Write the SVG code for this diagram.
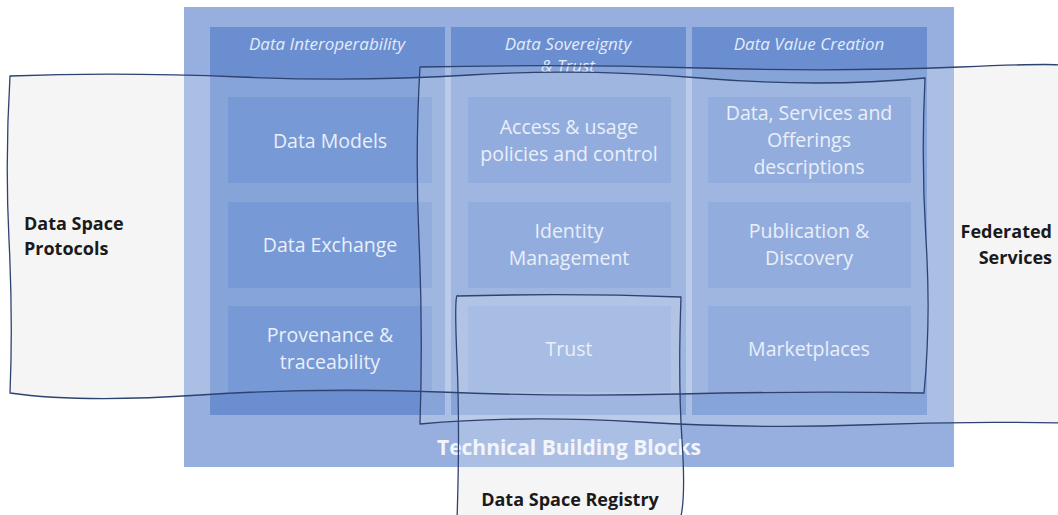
<svg xmlns="http://www.w3.org/2000/svg" width="1058" height="515" viewBox="0 0 1058 515">
<style>
.gray{fill:#f4f3f4;stroke:none}
.veil{fill:#ffffff;fill-opacity:0.2;stroke:none}
.edge{fill:none;stroke:#2e4270;stroke-width:1.3;stroke-linejoin:round}
.outer{fill:#97afdf}
.col{fill:#6a8ed0}
.blk{fill:#5580cb}
.hdr{font-family:"Open Sans","Liberation Sans",sans-serif;font-style:italic;font-size:17px;fill:#e4ebf8;text-anchor:middle}
.lbl{font-family:"Open Sans","Liberation Sans",sans-serif;font-size:19.5px;fill:#eaeff9;text-anchor:middle}
.side{font-family:"Open Sans","Liberation Sans",sans-serif;font-weight:bold;font-size:18px;fill:#1a1a1a}
.tbb{font-family:"Open Sans","Liberation Sans",sans-serif;font-weight:bold;font-size:21px;fill:#f2f5fb;text-anchor:middle}
</style>
<defs>
<path id="r1" d="M10,76 Q120,72 240,77 T470,75 T700,78 T925,78 Q921,160 926,240 T924,393 Q800,391 680,394 T440,392 T200,395 T10,393 Q13,320 9,240 T10,76 Z"/>
<path id="r2" d="M420,67 Q560,64 700,68 T960,67 T1060,67 L1060,423 Q960,421 860,425 T640,422 T420,424 Q423,330 419,240 T420,67 Z"/>
<path id="r3" d="M458,296 Q570,293 681,297 Q678,380 682,440 T680,520 L457,520 Q460,430 457,360 T458,296 Z"/>
</defs>
<g id="regions-base">
<use href="#r1" class="gray"/>
<use href="#r2" class="gray"/>
<use href="#r3" class="gray"/>
</g>
<g id="technical-building-blocks">
<rect class="outer" x="184" y="7" width="770" height="460"/>
</g>
<g id="col-interoperability">
<rect class="col" x="210" y="27" width="235" height="388"/>
</g>
<g id="col-sovereignty">
<rect class="col" x="451" y="27" width="235" height="388"/>
</g>
<g id="col-value">
<rect class="col" x="692" y="27" width="235" height="388"/>
</g>
<g id="blocks">
<rect class="blk" x="228" y="97" width="204" height="86"/>
<rect class="blk" x="228" y="202" width="204" height="86"/>
<rect class="blk" x="228" y="306" width="204" height="86"/>
<rect class="blk" x="468" y="97" width="203" height="86"/>
<rect class="blk" x="468" y="202" width="203" height="86"/>
<rect class="blk" x="468" y="306" width="203" height="86"/>
<rect class="blk" x="708" y="97" width="203" height="86"/>
<rect class="blk" x="708" y="202" width="203" height="86"/>
<rect class="blk" x="708" y="306" width="203" height="86"/>
</g>
<g id="veils">
<use href="#r1" class="veil"/>
<use href="#r2" class="veil"/>
<use href="#r3" class="veil"/>
</g>
<g id="headers">
<text class="hdr" x="327" y="50">Data Interoperability</text>
<text class="hdr" x="568" y="50">Data Sovereignty</text>
<text class="hdr" x="568" y="72">&amp; Trust</text>
<text class="hdr" x="809" y="50">Data Value Creation</text>
</g>
<g id="block-data-models"><text class="lbl" x="330" y="148">Data Models</text></g>
<g id="block-data-exchange"><text class="lbl" x="330" y="252">Data Exchange</text></g>
<g id="block-provenance"><text class="lbl" x="330" y="342">Provenance &amp;</text><text class="lbl" x="330" y="369">traceability</text></g>
<g id="block-access"><text class="lbl" x="569" y="134">Access &amp; usage</text><text class="lbl" x="569" y="161">policies and control</text></g>
<g id="block-identity"><text class="lbl" x="569" y="238">Identity</text><text class="lbl" x="569" y="265">Management</text></g>
<g id="block-trust"><text class="lbl" x="569" y="356">Trust</text></g>
<g id="block-offerings"><text class="lbl" x="809" y="120">Data, Services and</text><text class="lbl" x="809" y="147">Offerings</text><text class="lbl" x="809" y="174">descriptions</text></g>
<g id="block-publication"><text class="lbl" x="809" y="238">Publication &amp;</text><text class="lbl" x="809" y="265">Discovery</text></g>
<g id="block-marketplaces"><text class="lbl" x="809" y="356">Marketplaces</text></g>
<g id="tbb-label"><text class="tbb" x="569" y="455">Technical Building Blocks</text></g>
<g id="region-protocols">
<use href="#r1" class="edge"/>
<text class="side" x="24" y="230">Data Space</text>
<text class="side" x="24" y="255">Protocols</text>
</g>
<g id="region-federated">
<use href="#r2" class="edge"/>
<text class="side" x="1052" y="238" text-anchor="end">Federated</text>
<text class="side" x="1052" y="264" text-anchor="end">Services</text>
</g>
<g id="region-registry">
<use href="#r3" class="edge"/>
<text class="side" x="570" y="506" text-anchor="middle">Data Space Registry</text>
</g>
</svg>
